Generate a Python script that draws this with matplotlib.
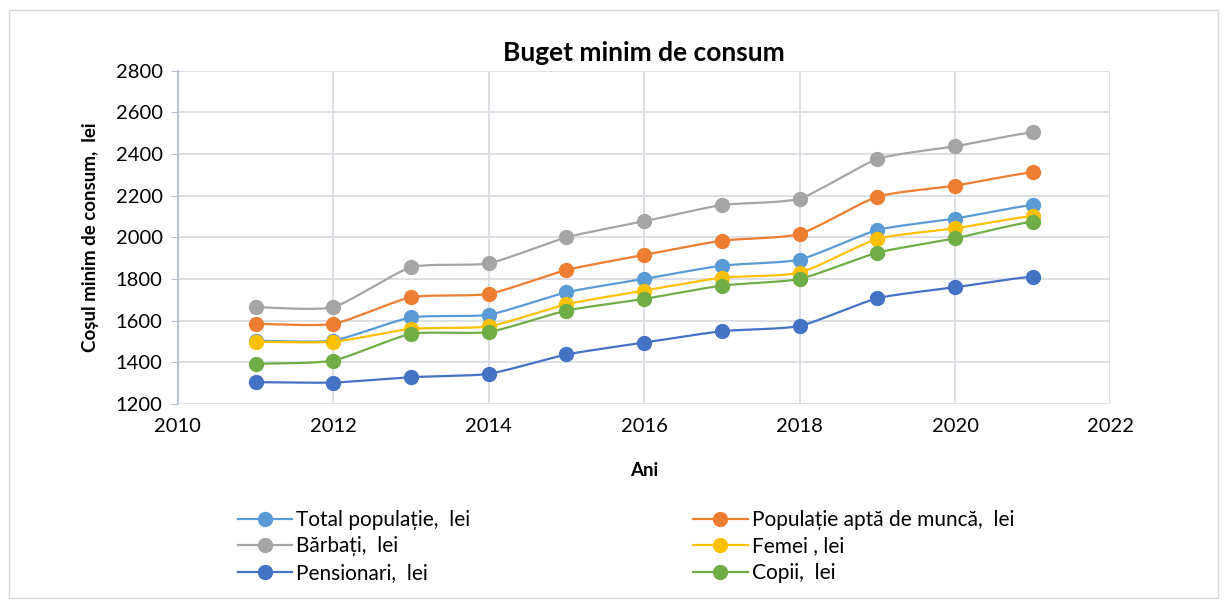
import numpy as np
import matplotlib
matplotlib.use("Agg")
import matplotlib.pyplot as plt
from matplotlib.patches import Rectangle

years = [2011, 2012, 2013, 2014, 2015, 2016, 2017, 2018, 2019, 2020, 2021]
total = [1503, 1504, 1615, 1628, 1736, 1800, 1864, 1893, 2035, 2090, 2155]
apti = [1584, 1584, 1712, 1728, 1843, 1915, 1984, 2016, 2195, 2248, 2312]
barbati = [1664, 1665, 1856, 1875, 2000, 2077, 2155, 2186, 2376, 2437, 2504]
femei = [1498, 1498, 1560, 1572, 1678, 1744, 1806, 1830, 1992, 2043, 2102]
pensionari = [1304, 1302, 1328, 1344, 1437, 1494, 1549, 1574, 1707, 1760, 1811]
copii = [1392, 1408, 1536, 1545, 1648, 1704, 1768, 1800, 1926, 1995, 2075]

labels = ["Total populație,  lei", "Populație aptă de muncă,  lei", "Bărbați,  lei",
          "Femei , lei", "Pensionari,  lei", "Copii,  lei"]
colors = ["#5B9BD5", "#ED7D31", "#A5A5A5", "#FFC000", "#4472C4", "#70AD47"]

plt.rcParams['font.family'] = ['Lato', 'DejaVu Sans']


def smooth(x, y, n=20):
    # catmull-rom style curve, close to excel "smoothed line"
    x = np.asarray(x, float)
    y = np.asarray(y, float)
    px = np.concatenate([[2 * x[0] - x[1]], x, [2 * x[-1] - x[-2]]])
    py = np.concatenate([[y[0]], y, [y[-1]]])
    xs, ys = [], []
    t = np.linspace(0, 1, n)
    for i in range(1, len(px) - 2):
        for arr, out in ((px, xs), (py, ys)):
            p0, p1, p2, p3 = arr[i - 1], arr[i], arr[i + 1], arr[i + 2]
            m1 = (p2 - p0) / 2 * 0.6
            m2 = (p3 - p1) / 2 * 0.6
            h00 = 2 * t**3 - 3 * t**2 + 1
            h10 = t**3 - 2 * t**2 + t
            h01 = -2 * t**3 + 3 * t**2
            h11 = t**3 - t**2
            out.extend(h00 * p1 + h10 * m1 + h01 * p2 + h11 * m2)
    return xs, ys


fig = plt.figure(figsize=(12.27, 6), dpi=100)
fig.patches.append(Rectangle((0.007, 0.003), 0.986, 0.98, transform=fig.transFigure,
                             fill=False, edgecolor="#D9D9D9", lw=1))
ax = fig.add_axes([0.145, 0.327, 0.76, 0.555])

series = [total, apti, barbati, femei, pensionari, copii]
handles = []
for vals, lab, col in zip(series, labels, colors):
    sx, sy = smooth(years, vals)
    ax.plot(sx, sy, color=col, lw=1.6, zorder=3)
    ax.plot(years, vals, 'o', color=col, ms=10, zorder=4)
    h, = ax.plot([], [], '-o', color=col, lw=1.6, ms=10, label=lab)
    handles.append(h)

ax.set_xlim(2010, 2022)
ax.set_ylim(1200, 2800)
ax.set_xticks(range(2010, 2023, 2))
ax.set_yticks(range(1200, 2801, 200))
ax.grid(True, color="#D9DDE3", lw=1.3)
ax.set_axisbelow(True)
for s in ["top", "right", "bottom"]:
    ax.spines[s].set_visible(False)
ax.spines["left"].set_color("#B4C0D3")
ax.spines["left"].set_linewidth(1.3)
ax.tick_params(axis="y", length=5, color="#B4C0D3", labelsize=14.5, pad=6)
ax.tick_params(axis="x", length=0, labelsize=14.5, pad=10)

ax.set_title("Buget minim de consum", fontsize=19, fontweight="bold", pad=7)
ax.set_xlabel("Ani", fontsize=13.5, fontweight="bold", labelpad=20)
ax.set_ylabel("Coșul minim de consum,  lei", fontsize=13.5, fontweight="bold", labelpad=12)

# excel fills the legend row by row
order = [0, 2, 4, 1, 3, 5]
fig.legend(handles=[handles[i] for i in order], loc="upper left", bbox_to_anchor=(0.194, 0.150),
           ncol=2, frameon=False, fontsize=15, columnspacing=10.7,
           handlelength=2.6, handletextpad=0.2, labelspacing=0.31,
           borderaxespad=0, borderpad=0)

fig.savefig("out.png", dpi=100)
